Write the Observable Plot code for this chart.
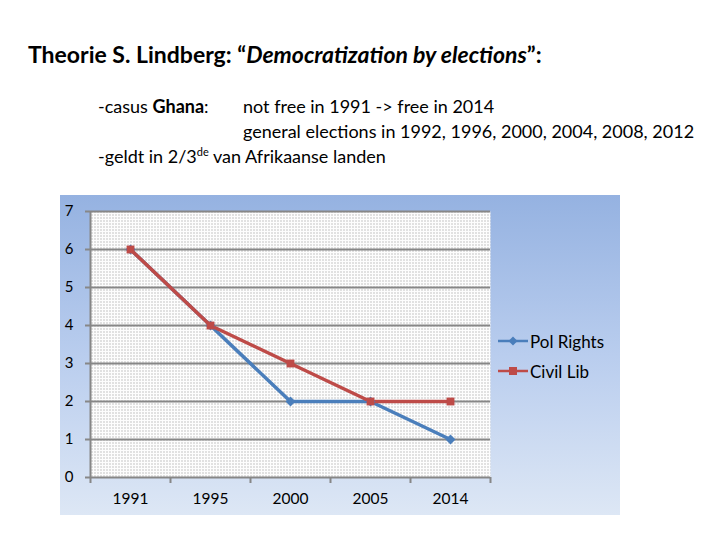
<!DOCTYPE html>
<html><head><meta charset="utf-8">
<script src="https://cdn.jsdelivr.net/npm/d3@7"></script>
<script src="https://cdn.jsdelivr.net/npm/@observablehq/plot@0.6"></script>
<style>
body{margin:0;width:720px;height:540px;background:#fff;position:relative;font-family:Lato,"Open Sans",sans-serif;color:#000;overflow:hidden}
.t{position:absolute;white-space:nowrap}
#title{left:28px;top:40px;font-size:23px;font-weight:bold}
.ln{font-size:18px}
#box{position:absolute;left:60px;top:195px;width:560px;height:320px;background:linear-gradient(to bottom,#95b2e1 0%,#b9cdee 50%,#dde7f5 100%)}
#chart{position:absolute;left:0;top:0}
#legend{position:absolute;left:438px;top:131px;font-size:17px}
#legend div{display:flex;align-items:center;height:30px}
#legend svg{margin-right:2px}
</style></head>
<body>
<div class="t" id="title">Theorie S. Lindberg: “<i>Democratization by elections</i>”:</div>
<div class="t ln" style="left:98px;top:95px">-casus <b>Ghana</b>:</div>
<div class="t ln" style="left:243px;top:95px">not free in 1991 -&gt; free in 2014</div>
<div class="t ln" style="left:243px;top:120px">general elections in 1992, 1996, 2000, 2004, 2008, 2012</div>
<div class="t ln" style="left:98px;top:145px">-geldt in 2/3<sup style="font-size:11px">de</sup> van Afrikaanse landen</div>
<div id="box"><div id="chart"></div>
<div id="legend"></div>
</div>
<script>
const years = ["1991","1995","2000","2005","2014"];
const polRights = [6, 4, 2, 2, 1];
const civilLib = [6, 4, 3, 2, 2];
const seriesNames = ["Pol Rights","Civil Lib"];
const seriesColors = ["#4a7ebb","#be4b48"];
const yTicks = [0,1,2,3,4,5,6,7];

const rows = [];
years.forEach((y,i)=>{
  rows.push({i, year:y, v:polRights[i], s:seriesNames[0]});
  rows.push({i, year:y, v:civilLib[i], s:seriesNames[1]});
});
const pr = rows.filter(d=>d.s===seriesNames[0]);
const cl = rows.filter(d=>d.s===seriesNames[1]);
const bounds = d3.range(years.length+1).map(k=>k-0.5);

const plot = Plot.plot({
  width:560, height:320,
  marginLeft:30, marginRight:130, marginTop:16, marginBottom:38,
  style:{background:"transparent", fontFamily:"Lato, sans-serif", overflow:"visible"},
  x:{type:"linear", domain:[-0.5, years.length-0.5], axis:null, label:null},
  y:{domain:[0,7], axis:null, label:null},
  marks:[
    Plot.frame({fill:"url(#dots)", stroke:null}),
    Plot.gridY(yTicks.filter(t=>t>0), {stroke:"#878787", strokeOpacity:1, strokeWidth:2}),
    Plot.ruleY([0], {stroke:"#878787", strokeWidth:2}),
    Plot.ruleX([-0.5], {stroke:"#878787", strokeWidth:2}),
    Plot.axisY(yTicks, {label:null, tickSize:5, tickPadding:12, stroke:"#878787", strokeWidth:2, strokeOpacity:1, fontSize:15, fill:"#000"}),
    Plot.axisX(bounds, {label:null, tickSize:6, tickFormat:()=>"", stroke:"#878787", strokeWidth:2, strokeOpacity:1}),
    Plot.axisX(d3.range(years.length), {label:null, tickSize:0, tickPadding:15, tickFormat:i=>years[i], fontSize:15.5, fill:"#000"}),
    Plot.line(pr, {x:"i", y:"v", stroke:seriesColors[0], strokeWidth:3.5}),
    Plot.line(cl, {x:"i", y:"v", stroke:seriesColors[1], strokeWidth:3.5}),
    Plot.dot(pr, {x:"i", y:"v", symbol:"diamond2", fill:seriesColors[0], r:4.5}),
    Plot.dot(cl, {x:"i", y:"v", symbol:"square2", fill:seriesColors[1], r:5})
  ]
});
const svg = d3.select(plot);
const defs = svg.insert("defs", ":first-child");
const pat = defs.append("pattern").attr("id","dots").attr("width",3).attr("height",3).attr("patternUnits","userSpaceOnUse");
pat.append("rect").attr("width",3).attr("height",3).attr("fill","#fdfdfd");
pat.append("rect").attr("x",1).attr("y",1).attr("width",1).attr("height",1).attr("fill","#8c8c8c");
document.getElementById("chart").appendChild(plot);

const leg = document.getElementById("legend");
seriesNames.forEach((n,k)=>{
  const row = document.createElement("div");
  const mark = k===0
    ? `<polygon points="15,0.5 19.5,5 15,9.5 10.5,5" fill="${seriesColors[k]}"/>`
    : `<rect x="11" y="1" width="8" height="8" fill="${seriesColors[k]}"/>`;
  row.innerHTML = `<svg width="30" height="10"><line x1="0" y1="5" x2="30" y2="5" stroke="${seriesColors[k]}" stroke-width="2.5"/>${mark}</svg><span>${n}</span>`;
  leg.appendChild(row);
});
</script>
</body></html>
